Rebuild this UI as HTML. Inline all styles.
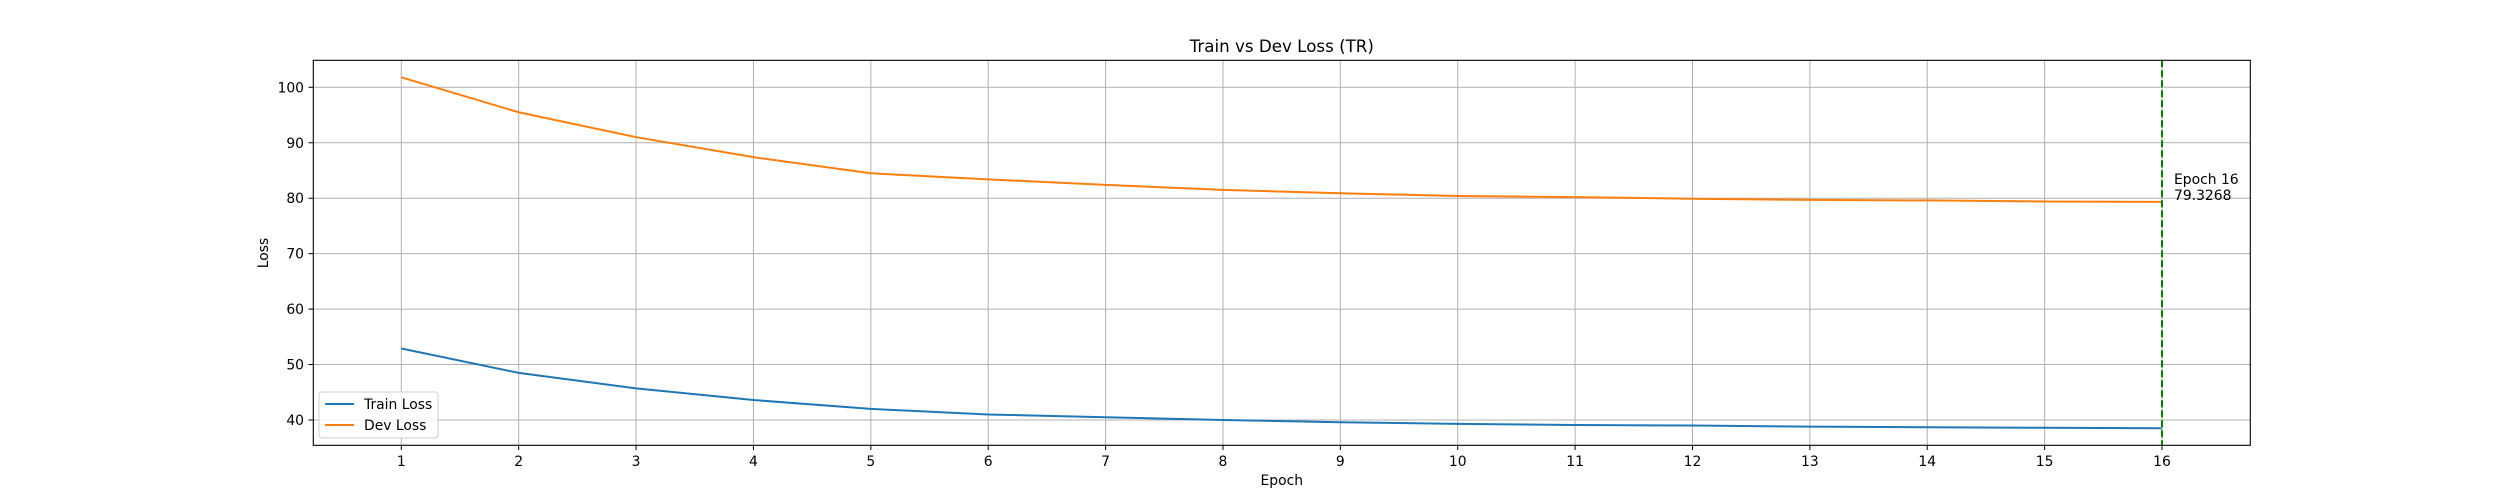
<!DOCTYPE html>
<html><head><meta charset="utf-8"><style>
body{margin:0;background:#fff}
svg{display:block;font-family:"DejaVu Sans","Liberation Sans",sans-serif}
</style></head><body>
<svg id="chart" width="2500" height="500" xmlns="http://www.w3.org/2000/svg">
<rect x="0" y="0" width="2500" height="500" fill="#fff"/>
<text x="1281.8" y="52" font-size="16.7" text-anchor="middle">Train vs Dev Loss (TR)</text>
<g id="grid"></g>
<g id="ticks"></g>
<g id="series"></g>
<rect x="313.3" y="60.3" width="1937" height="385" fill="none" stroke="#000" stroke-width="1.1"/>
<text x="1281.8" y="485" font-size="13.9" text-anchor="middle">Epoch</text>
<text transform="translate(268,253) rotate(-90)" font-size="13.9" text-anchor="middle">Loss</text>
<g>
<rect x="319" y="392" width="119" height="46" rx="3" fill="#fff" fill-opacity="0.8" stroke="#ccc"/>
<line x1="325" y1="404" x2="354" y2="404" stroke="#1f77b4" stroke-width="2"/>
<text x="364" y="409" font-size="13.9">Train Loss</text>
<line x1="325" y1="425" x2="354" y2="425" stroke="#ff7f0e" stroke-width="2"/>
<text x="364" y="430" font-size="13.9">Dev Loss</text>
</g>
</svg>
<script>
const epochs=[1,2,3,4,5,6,7,8,9,10,11,12,13,14,15,16];
const trainLoss=[52.9,48.5,45.7,43.6,42.0,41.0,40.5,40.0,39.6,39.3,39.1,39.0,38.8,38.7,38.6,38.5];
const devLoss=[101.8,95.5,91.0,87.4,84.5,83.4,82.4,81.5,80.9,80.4,80.2,79.9,79.7,79.6,79.4,79.3268];
const yTicks=[40,50,60,70,80,90,100];
const bestEpoch=16;
const bestValue=79.3268;
const NS="http://www.w3.org/2000/svg";
const X=e=>401.3+(e-1)*(2162-401.3)/15;
const Y=v=>420-(v-40)*(420-87.3)/60;
function mk(tag,attrs,parent){const el=document.createElementNS(NS,tag);for(const k in attrs)el.setAttribute(k,attrs[k]);parent.appendChild(el);return el;}
const grid=document.getElementById('grid'),ticks=document.getElementById('ticks'),series=document.getElementById('series');
epochs.forEach(e=>{
 const g=mk('line',{x1:X(e),x2:X(e),y1:60.3,y2:445.3,stroke:'#b0b0b0','stroke-width':1},grid);
 
 
 mk('line',{x1:X(e),x2:X(e),y1:445.3,y2:450,stroke:'#000'},ticks);
 const t=mk('text',{x:X(e),y:466,'font-size':13.9,'text-anchor':'middle'},ticks);
 t.textContent=e;
 
 
});
yTicks.forEach(v=>{
 const g=mk('line',{x1:313.3,x2:2250.3,y1:Y(v),y2:Y(v),stroke:'#b0b0b0','stroke-width':1},grid);
 
 
 mk('line',{x1:308.5,x2:313.3,y1:Y(v),y2:Y(v),stroke:'#000'},ticks);
 const t=mk('text',{x:304,y:Y(v)+5,'font-size':13.9,'text-anchor':'end'},ticks);
 t.textContent=v;
 
 
});
const pt=arr=>arr.map((v,i)=>X(epochs[i])+','+Y(v)).join(' ');
const tl=mk('polyline',{points:pt(trainLoss),fill:'none',stroke:'#1f77b4','stroke-width':2},series);


const dl=mk('polyline',{points:pt(devLoss),fill:'none',stroke:'#ff7f0e','stroke-width':2},series);


const vl=mk('line',{x1:X(bestEpoch),x2:X(bestEpoch),y1:60.3,y2:445.3,stroke:'#008000','stroke-width':2,'stroke-dasharray':'7,3'},series);


const a=mk('text',{x:X(bestEpoch)+12,y:Y(bestValue)-18,'font-size':13.9},series);


const s1=mk('tspan',{x:X(bestEpoch)+12},a);s1.textContent='Epoch '+bestEpoch;
const s2=mk('tspan',{x:X(bestEpoch)+12,dy:16},a);s2.textContent=bestValue.toFixed(4);
</script>
</body></html>
